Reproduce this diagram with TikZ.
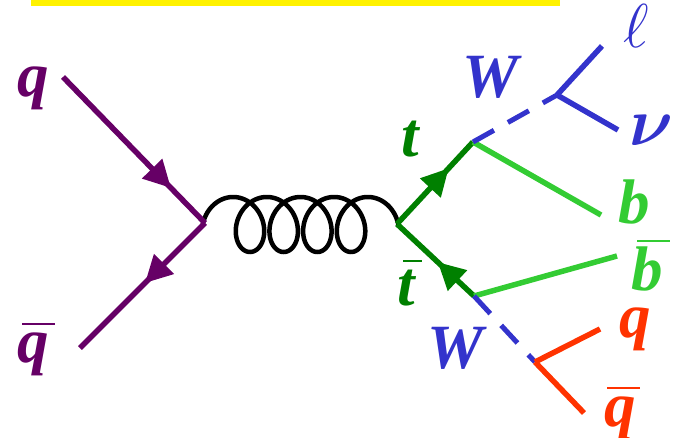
\RequirePackage{fix-cm}
\documentclass[tikz,border=0pt]{standalone}
\usepackage{fontspec}
\setmainfont{Liberation Serif}
\usetikzlibrary{arrows.meta,decorations.markings}

\definecolor{quarkpurple}{HTML}{660066}
\definecolor{topgreen}{HTML}{008000}
\definecolor{bgreen}{HTML}{33CC33}
\definecolor{wblue}{HTML}{3333CC}
\definecolor{qred}{HTML}{FF3300}

% letter with an overbar: #1 letter, #2 shift, #3 raise, #4 bar width
\newcommand\barred[4]{\leavevmode\rlap{\hspace*{#2}\rule[#3]{#4}{2pt}}#1}
\newcommand\boldnu{\mbox{\boldmath$\nu$}}

\tikzset{
  lbl/.style={font=\fontsize{63}{63}\selectfont\bfseries\itshape, inner sep=0pt, anchor=base},
  fermion/.style={line width=5.5pt},
  light/.style={line width=5.5pt, bgreen},
  boson/.style={line width=5pt, wblue, dash pattern=on 24pt off 16pt},
  gluon/.style={line width=4.5pt, black},
  arrowat/.style={postaction={decorate},
    decoration={markings, mark=at position #1 with {\arrow{Triangle[length=27pt,width=27pt]}}}}
}

\begin{document}
\begin{tikzpicture}[x=1pt,y=-1pt]
\useasboundingbox (0,0) rectangle (676,438);
\fill[yellow] (31,0) rectangle (560,6);

% vertices and free ends
\coordinate (qin) at (63,77);
\coordinate (qbin) at (80,348);
\coordinate (V1) at (205,223);
\coordinate (V2) at (397,224);
\coordinate (T) at (473,142);
\coordinate (B) at (474,296);
\coordinate (Wt) at (557,95);
\coordinate (Wb) at (535,362);
\coordinate (lend) at (602,46);
\coordinate (nend) at (618,130);
\coordinate (bend) at (601,215);
\coordinate (bbend) at (617,256);
\coordinate (qend) at (600,329);
\coordinate (qbend) at (584,413);

% gluon propagator
\draw[gluon] plot[domain=-4.712:23.562, samples=500, variable=\t]
  ({250+5.36*\t-22*sin(\t r)}, {224.5+27.5*cos(\t r)});

% incoming quarks
\draw[fermion, quarkpurple, arrowat=0.76] (qin) -- (V1);
\draw[fermion, quarkpurple, arrowat=0.48] (V1) -- (qbin);

% top pair
\draw[fermion, topgreen, arrowat=0.68] (V2) -- (T);
\draw[fermion, topgreen, arrowat=0.47] (B) -- (V2);

% b quarks
\draw[light] (T) -- (bend);
\draw[light] (B) -- (bbend);

% W bosons
\draw[boson] (T) -- (Wt);
\draw[boson] (B) -- (Wb);

% W decays
\draw[line width=5.5pt, wblue] (Wt) -- (lend);
\draw[line width=5.5pt, wblue] (Wt) -- (nend);
\draw[line width=5.5pt, qred] (Wb) -- (qend);
\draw[line width=5.5pt, qred] (Wb) -- (qbend);

% labels
\node[lbl, quarkpurple] (lq1) at (33,97) {q};
\node[lbl, quarkpurple] (lq2) at (33,362) {\barred{q}{5pt}{37pt}{33pt}};
\node[lbl, topgreen] (lt) at (410,157) {t};
\node[lbl, topgreen] (ltb) at (406,305) {\barred{t}{6pt}{43pt}{19pt}};
\node[lbl, wblue] (lW1) at (490,98) {W};
\node[lbl, wblue] (lW2) at (455,368) {W};
\node[wblue, inner sep=0pt, anchor=base, font=\fontsize{62}{62}\selectfont] (lell) at (636,48) {$\ell$};
\node[wblue, inner sep=0pt, anchor=base, font=\fontsize{68}{68}\selectfont] (lnu) at (651,146) {\boldnu};
\node[lbl, bgreen] (lb) at (634,223) {b};
\node[lbl, bgreen] (lbb) at (647,290) {\barred{b}{6pt}{48pt}{33pt}};
\node[lbl, qred] (lq3) at (635,337) {q};
\node[lbl, qred] (lq4) at (620,426) {\barred{q}{3pt}{37pt}{33pt}};
\end{tikzpicture}
\end{document}
